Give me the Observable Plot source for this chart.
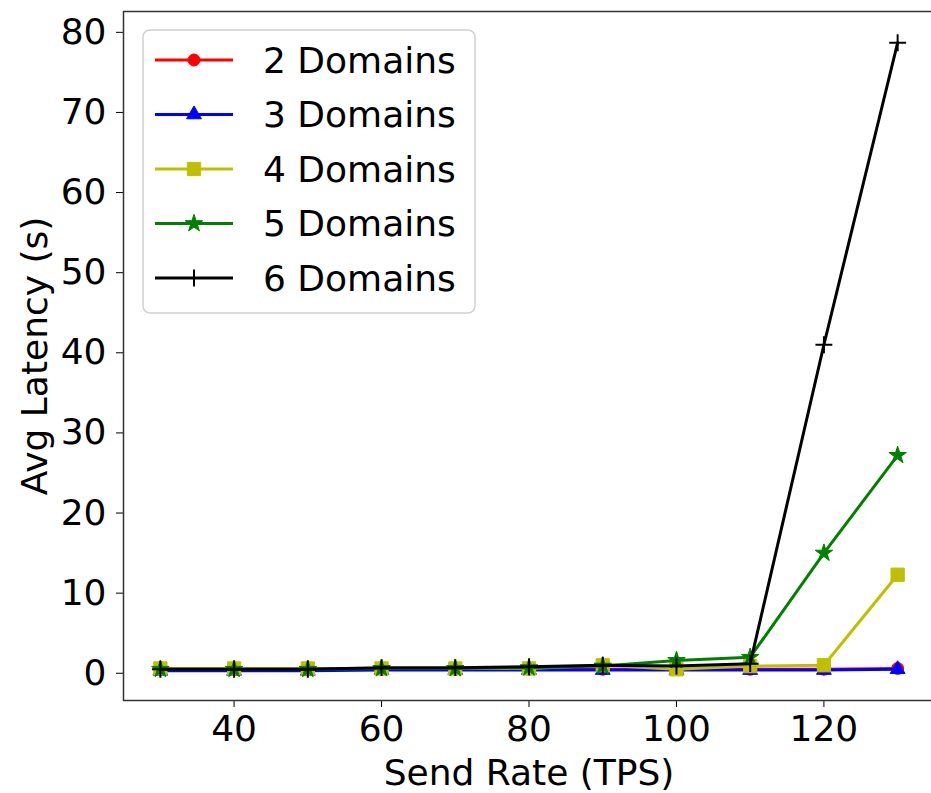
<!DOCTYPE html>
<html>
<head>
<meta charset="utf-8">
<script src="https://cdn.jsdelivr.net/npm/d3@7"></script>
<script src="https://cdn.jsdelivr.net/npm/@observablehq/plot@0.6"></script>
<style>
  html, body { margin: 0; padding: 0; background: #fff; }
  #chart svg { display: block; }
</style>
</head>
<body>
<div id="chart"></div>
<script>
// ---- Data ----
const sendRates = [30, 40, 50, 60, 70, 80, 90, 100, 110, 120, 130];
const domains2 = [0.5, 0.5, 0.5, 0.5, 0.5, 0.5, 0.5, 0.5, 0.5, 0.5, 0.6];
const domains3 = [0.3, 0.3, 0.3, 0.4, 0.4, 0.4, 0.4, 0.4, 0.4, 0.4, 0.5];
const domains4 = [0.6, 0.6, 0.6, 0.6, 0.6, 0.6, 1.0, 0.5, 0.9, 1.0, 12.3];
const domains5 = [0.5, 0.5, 0.5, 0.6, 0.6, 0.7, 0.9, 1.6, 2.0, 15.0, 27.2];
const domains6 = [0.5, 0.5, 0.5, 0.7, 0.7, 0.8, 1.0, 0.9, 1.2, 41.0, 78.7];
const seriesNames = ["2 Domains", "3 Domains", "4 Domains", "5 Domains", "6 Domains"];
const seriesValues = [domains2, domains3, domains4, domains5, domains6];
const xTicks = [40, 60, 80, 100, 120];
const yTicks = [0, 10, 20, 30, 40, 50, 60, 70, 80];

// ---- Styles ----
const colors = ["#ff0000", "#0000ff", "#bfbf00", "#008000", "#000000"];
const symbols = ["circle", "triangle", "square", "star", "plus"];
const d3symbols = [d3.symbolCircle, d3.symbolTriangle, d3.symbolSquare, d3.symbolStar, d3.symbolPlus];
const radii = [6, 5.5, 7.5, 5.5, 5.5];

const rows = [];
seriesNames.forEach((name, i) => {
  sendRates.forEach((x, j) => rows.push({series: name, idx: i, x, y: seriesValues[i][j]}));
});

const W = 931, H = 793;
const marks = [];
seriesNames.forEach((name, i) => {
  const data = rows.filter(d => d.idx === i);
  marks.push(Plot.line(data, {x: "x", y: "y", stroke: colors[i], strokeWidth: 3}));
  if (symbols[i] === "plus") {
    marks.push(Plot.dot(data, {x: "x", y: "y", symbol: "plus", r: radii[i], stroke: colors[i], strokeWidth: 2, fill: "none"}));
  } else {
    marks.push(Plot.dot(data, {x: "x", y: "y", symbol: symbols[i], r: radii[i], fill: colors[i], stroke: colors[i], strokeWidth: 1}));
  }
});

const chart = Plot.plot({
  width: W,
  height: H,
  marginLeft: 123,
  marginRight: -3,
  marginTop: 11,
  marginBottom: 93,
  style: {fontFamily: "'DejaVu Sans', sans-serif", fontSize: "36px", color: "#000", background: "#fff"},
  x: {domain: [25, 135]},
  y: {domain: [-3.4, 82.6]},
  marks: [
    Plot.axisX({ticks: xTicks, tickSize: 7, tickPadding: 8, tickFormat: d => String(d),
      label: "Send Rate (TPS)", labelAnchor: "center", labelArrow: "none", labelOffset: 84}),
    Plot.axisY({ticks: yTicks, tickSize: 7, tickPadding: 10, tickFormat: d => String(d),
      label: "Avg Latency (s)", labelAnchor: "center", labelArrow: "none", labelOffset: 102}),
    ...marks,
    Plot.frame({stroke: "#333", strokeWidth: 1.5})
  ]
});
document.getElementById("chart").appendChild(chart);

// ---- Legend (in-plot, top-left) ----
const svg = d3.select(chart);
const lg = svg.append("g");
lg.append("rect").attr("x", 143).attr("y", 30).attr("width", 332).attr("height", 283)
  .attr("rx", 7).attr("fill", "#fff").attr("fill-opacity", 0.85).attr("stroke", "#d0d0d0").attr("stroke-width", 1.5);
seriesNames.forEach((name, i) => {
  const y = 60 + 54.5 * i;
  lg.append("line").attr("x1", 155).attr("x2", 233).attr("y1", y).attr("y2", y)
    .attr("stroke", colors[i]).attr("stroke-width", 3);
  const sym = d3.symbol(d3symbols[i], Math.PI * radii[i] * radii[i]);
  const p = lg.append("path").attr("d", sym()).attr("transform", `translate(194,${y})`);
  if (symbols[i] === "plus") p.attr("fill", "none").attr("stroke", colors[i]).attr("stroke-width", 2);
  else p.attr("fill", colors[i]).attr("stroke", colors[i]).attr("stroke-width", 1);
  lg.append("text").attr("x", 263).attr("y", y).attr("dy", "0.35em")
    .attr("text-anchor", "start").attr("font-size", 36).attr("fill", "#000").text(name);
});
</script>
</body>
</html>
